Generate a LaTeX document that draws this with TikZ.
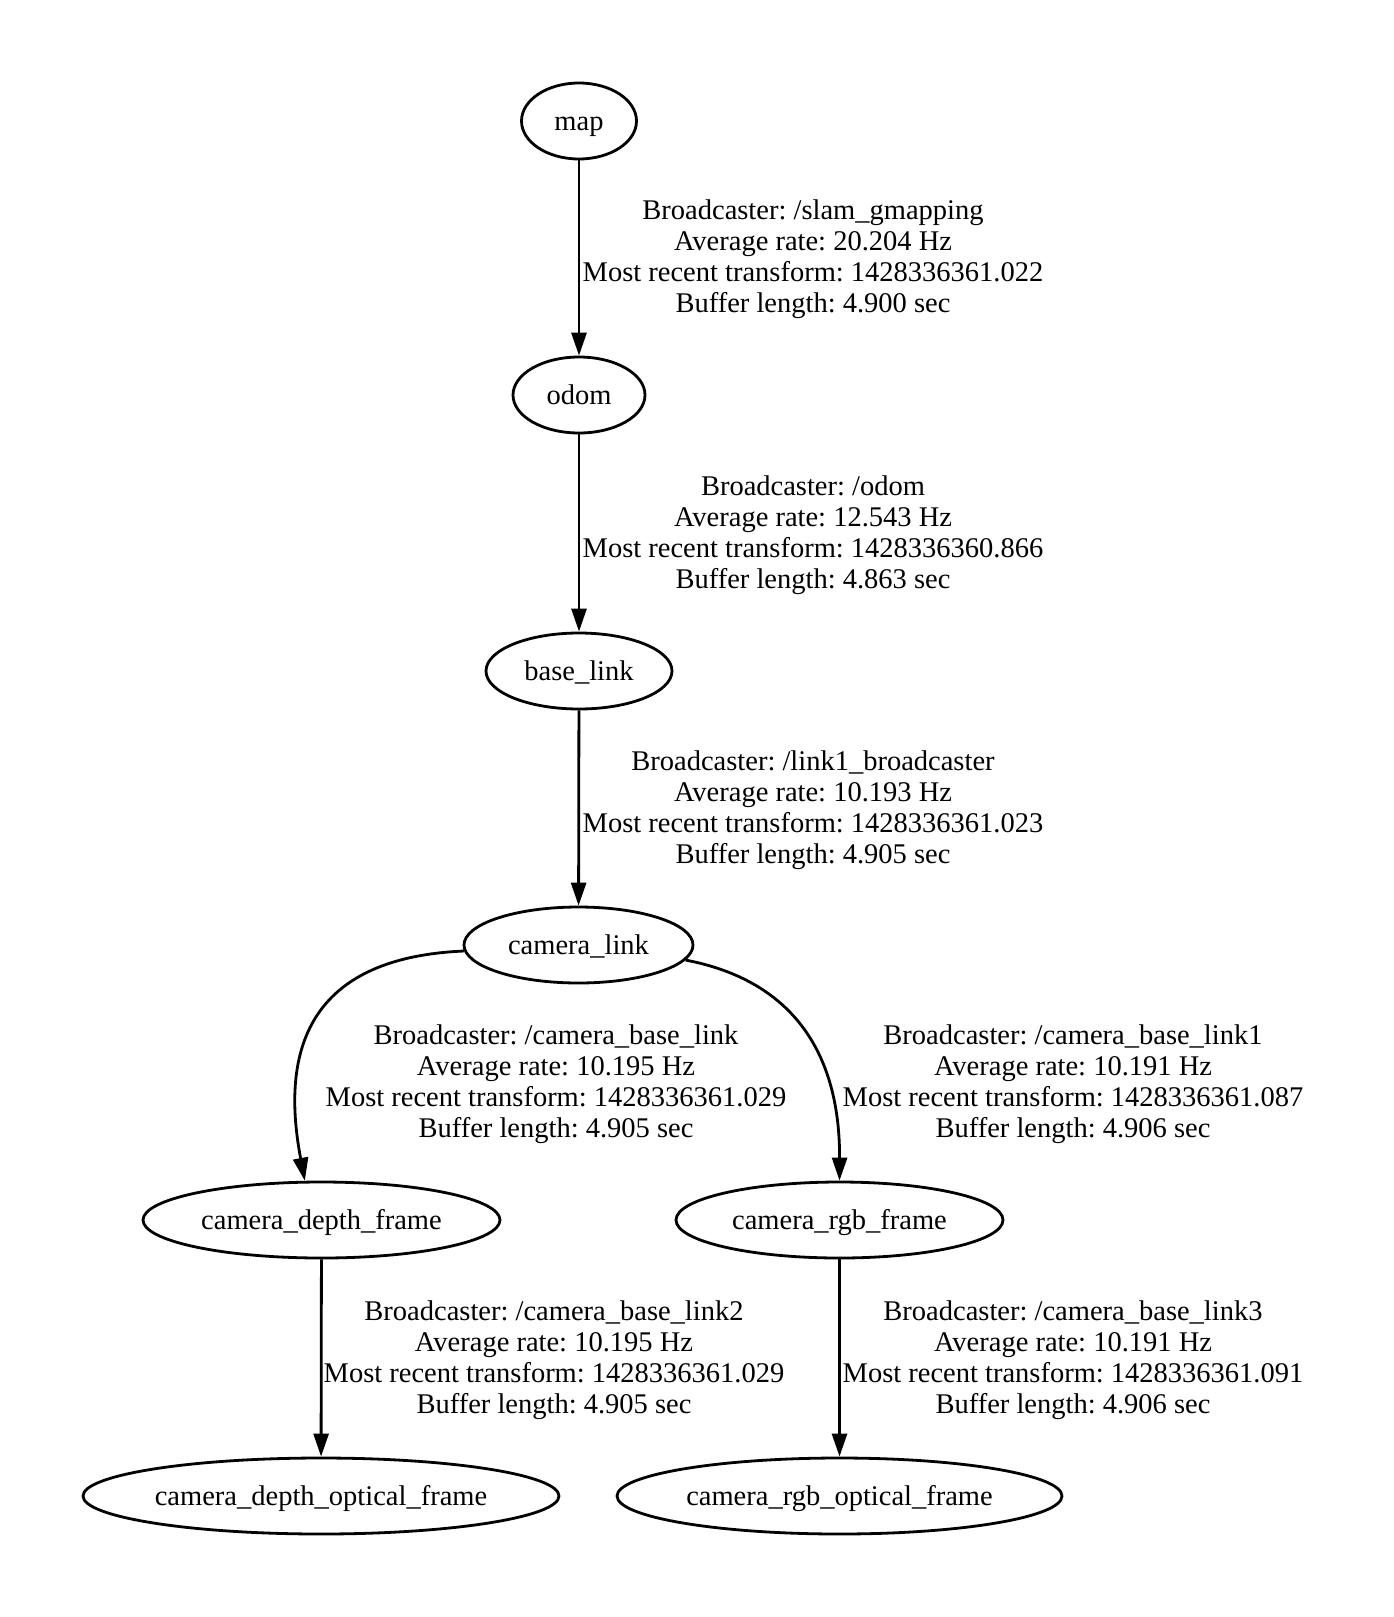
\documentclass[tikz,border=0pt]{standalone}
\usepackage{fontspec}
\setmainfont{Liberation Serif}
\usetikzlibrary{shapes.geometric,arrows.meta}
\begin{document}
\frenchspacing
\begin{tikzpicture}[x=1pt,y=-1pt,
  frame/.style={ellipse,draw,line width=2.8pt,inner sep=0pt,minimum height=76pt,
    text height=20pt,text depth=0.5pt,
    font=\fontsize{28.5}{31}\selectfont},
  lbl/.style={align=center,inner sep=0pt,font=\fontsize{28.5}{31}\selectfont},
  tf/.style={line width=2.8pt,-{Triangle[length=23pt,width=15pt]}}]
\useasboundingbox[fill=white] (0,0) rectangle (1394,1617);
\node[frame,minimum width=115pt] (map) at (579,121) {map};
\node[frame,minimum width=132pt] (odom) at (579,395) {odom};
\node[frame,minimum width=186pt] (base) at (579,671) {base\_link};
\node[frame,minimum width=229pt] (cl) at (578.5,945) {camera\_link};
\node[frame,minimum width=357pt] (cdf) at (321.5,1220) {camera\_depth\_frame};
\node[frame,minimum width=327pt] (crf) at (839.5,1220) {camera\_rgb\_frame};
\node[frame,minimum width=476pt] (cdo) at (321,1496) {camera\_depth\_optical\_frame};
\node[frame,minimum width=445pt] (cro) at (839.5,1496) {camera\_rgb\_optical\_frame};

\draw[tf] (map) -- (odom);
\draw[tf] (odom) -- (base);
\draw[tf] (base) -- (cl);
\draw[tf] (cl.183) .. controls (300,958) and (282,1060) .. (cdf.113);
\draw[tf] (cl.-8.5) .. controls (790,980) and (840,1050) .. (crf.north);
\draw[tf] (cdf) -- (cdo);
\draw[tf] (crf) -- (cro);

\node[lbl] (l1) at (813,259) {Broadcaster: /slam\_gmapping\\Average rate: 20.204 Hz\\Most recent transform: 1428336361.022\\Buffer length: 4.900 sec};
\node[lbl] (l2) at (813,535) {Broadcaster: /odom\\Average rate: 12.543 Hz\\Most recent transform: 1428336360.866\\Buffer length: 4.863 sec};
\node[lbl] (l3) at (813,810) {Broadcaster: /link1\_broadcaster\\Average rate: 10.193 Hz\\Most recent transform: 1428336361.023\\Buffer length: 4.905 sec};
\node[lbl] (l4) at (556,1084) {Broadcaster: /camera\_base\_link\\Average rate: 10.195 Hz\\Most recent transform: 1428336361.029\\Buffer length: 4.905 sec};
\node[lbl] (l5) at (1073,1084) {Broadcaster: /camera\_base\_link1\\Average rate: 10.191 Hz\\Most recent transform: 1428336361.087\\Buffer length: 4.906 sec};
\node[lbl] (l6) at (554,1360) {Broadcaster: /camera\_base\_link2\\Average rate: 10.195 Hz\\Most recent transform: 1428336361.029\\Buffer length: 4.905 sec};
\node[lbl] (l7) at (1073,1360) {Broadcaster: /camera\_base\_link3\\Average rate: 10.191 Hz\\Most recent transform: 1428336361.091\\Buffer length: 4.906 sec};
\end{tikzpicture}
\end{document}
